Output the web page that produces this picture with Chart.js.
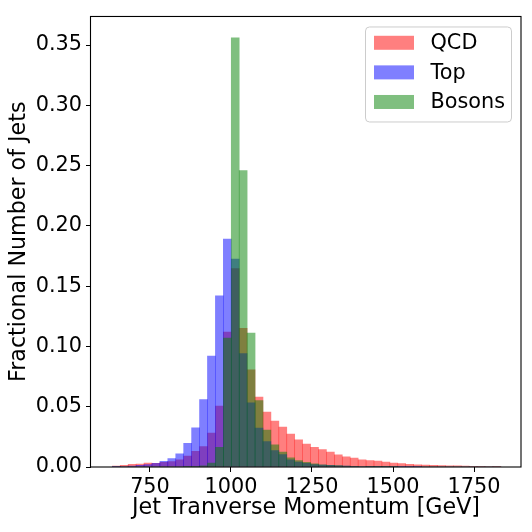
<!DOCTYPE html>
<html><head><meta charset="utf-8">
<script src="https://cdn.jsdelivr.net/npm/chart.js@4.4.1/dist/chart.umd.min.js"></script>
<style>html,body{margin:0;padding:0;background:#fff}</style>
</head><body>
<canvas id="c" width="532" height="532"></canvas>
<script>
// Bin edges (GeV), 49 bins
const binEdges = [633.8,658.3,682.7,707.2,731.7,756.2,780.6,805.1,829.6,854.0,
  878.5,903.0,927.4,951.9,976.4,1000.9,1025.3,1049.8,1074.3,1098.7,
  1123.2,1147.7,1172.1,1196.6,1221.1,1245.6,1270.0,1294.5,1319.0,1343.4,
  1367.9,1392.4,1416.8,1441.3,1465.8,1490.3,1514.7,1539.2,1563.7,1588.1,
  1612.6,1637.1,1661.5,1686.0,1710.5,1734.9,1759.4,1783.9,1808.4,1832.8];
const seriesNames = ['QCD', 'Top', 'Bosons'];
const qcdValues = [0.0008,0.0013,0.0022,0.0025,0.0033,0.0031,0.0038,0.0044,0.0060,0.0090,
  0.0130,0.0170,0.0281,0.0505,0.1119,0.1646,0.1151,0.0805,0.0579,0.0455,
  0.0381,0.0332,0.0273,0.0226,0.0191,0.0164,0.0144,0.0123,0.0101,0.0085,
  0.0074,0.0060,0.0054,0.0049,0.0041,0.0033,0.0028,0.0022,0.0019,0.0016,
  0.0013,0.0012,0.0010,0.0009,0.0008,0.0006,0.0005,0.0004,0.0001];
const topValues = [0.0002,0.0004,0.0008,0.0013,0.0020,0.0031,0.0046,0.0069,0.0109,0.0196,
  0.0325,0.0559,0.0920,0.1419,0.1891,0.1724,0.0941,0.0532,0.0322,0.0211,
  0.0137,0.0103,0.0060,0.0041,0.0031,0.0021,0.0016,0.0013,0.0010,0.0007,
  0.0005,0.0004,0.0003,0.0002,0.0002,0.0001,0.0001,0.0001,0.0001,0,
  0,0,0,0,0,0,0,0,0];
const bosonValues = [0,0,0,0,0,0,0,0,0,0.0002,
  0.0005,0.0010,0.0033,0.0164,0.1070,0.3559,0.2459,0.1111,0.0551,0.0306,
  0.0183,0.0123,0.0077,0.0054,0.0038,0.0027,0.0019,0.0014,0.0011,0.0008,
  0.0006,0.0004,0.0003,0.0002,0.0002,0.0001,0,0,0,0,
  0,0,0,0,0,0,0,0,0];
const xTicks = [750, 1000, 1250, 1500, 1750];
const yTicks = [0, 0.05, 0.10, 0.15, 0.20, 0.25, 0.30, 0.35];
const xLabel = 'Jet Tranverse Momentum [GeV]';
const yLabel = 'Fractional Number of Jets';

const FONT = "'DejaVu Sans', sans-serif";
const TICK_SIZE = 20.8, LABEL_SIZE = 22.2;
const colors = ['rgba(255,0,0,0.5)', 'rgba(0,0,255,0.5)', 'rgba(0,128,0,0.5)'];
const allValues = [qcdValues, topValues, bosonValues];

function toPoints(vals) {
  return vals.map((v, i) => ({ x: (binEdges[i] + binEdges[i + 1]) / 2, y: v }));
}

const datasets = allValues.map((vals, k) => ({
  label: seriesNames[k],
  data: toPoints(vals),
  backgroundColor: colors[k],
  borderWidth: 0,
  barPercentage: 1,
  categoryPercentage: 1,
  grouped: false,
  order: 3 - k
}));

const framePlugin = {
  id: 'frameLegend',
  afterDraw(chart) {
    const ctx = chart.ctx, a = chart.chartArea;
    ctx.save();
    ctx.strokeStyle = '#000';
    ctx.lineWidth = 1.1;
    ctx.strokeRect(a.left - 0.5, a.top, a.right - a.left + 0.5, a.bottom - a.top);
    // legend
    const lx = a.right - 155.5, ly = a.top + 10.5, lw = 146, lh = 95;
    ctx.beginPath();
    if (ctx.roundRect) ctx.roundRect(lx, ly, lw, lh, 4); else ctx.rect(lx, ly, lw, lh);
    ctx.fillStyle = 'rgba(255,255,255,0.8)';
    ctx.fill();
    ctx.lineWidth = 1;
    ctx.strokeStyle = '#cccccc';
    ctx.stroke();
    ctx.font = TICK_SIZE + 'px ' + FONT;
    ctx.textBaseline = 'middle';
    ctx.textAlign = 'left';
    chart.data.datasets.forEach((ds, k) => {
      const cy = ly + 15.8 + k * 29.6;
      ctx.fillStyle = ds.backgroundColor;
      ctx.fillRect(lx + 8.5, cy - 7, 40, 14);
      ctx.fillStyle = '#000';
      ctx.fillText(ds.label, lx + 65, cy + 1);
    });
    ctx.restore();
  }
};

new Chart(document.getElementById('c'), {
  type: 'bar',
  data: { datasets },
  options: {
    responsive: false,
    animation: false,
    layout: { padding: { left: 0, top: 10, right: 11, bottom: 0 } },
    plugins: { legend: { display: false }, tooltip: { enabled: false } },
    scales: {
      x: {
        type: 'linear',
        min: 568, max: 1895,
        offset: false,
        border: { display: false },
        grid: { offset: false, drawOnChartArea: false, drawTicks: true, tickLength: 5, color: '#000', tickColor: '#000' },
        ticks: { color: '#000', font: { family: FONT, size: TICK_SIZE }, padding: 3, maxRotation: 0, autoSkip: false,
          includeBounds: false, stepSize: 250, callback: v => String(v) },
        afterBuildTicks: s => { s.ticks = xTicks.map(v => ({ value: v })); },
        afterFit: s => { s.height = 65; },
        title: { display: true, text: xLabel, color: '#000', font: { family: FONT, size: LABEL_SIZE }, padding: { top: 0, bottom: 10.7 } }
      },
      y: {
        min: 0, max: 0.3737,
        border: { display: false },
        grid: { offset: false, drawOnChartArea: false, drawTicks: true, tickLength: 5, color: '#000', tickColor: '#000' },
        ticks: { color: '#000', font: { family: FONT, size: TICK_SIZE }, padding: 4, includeBounds: false,
          callback: v => Number(v).toFixed(2) },
        afterBuildTicks: s => { s.ticks = yTicks.map(v => ({ value: v })); },
        afterFit: s => { s.width = 91; },
        title: { display: true, text: yLabel, color: '#000', font: { family: FONT, size: LABEL_SIZE }, padding: { top: 5.7, bottom: 0 } }
      }
    }
  },
  plugins: [framePlugin]
});
</script>
</body></html>
